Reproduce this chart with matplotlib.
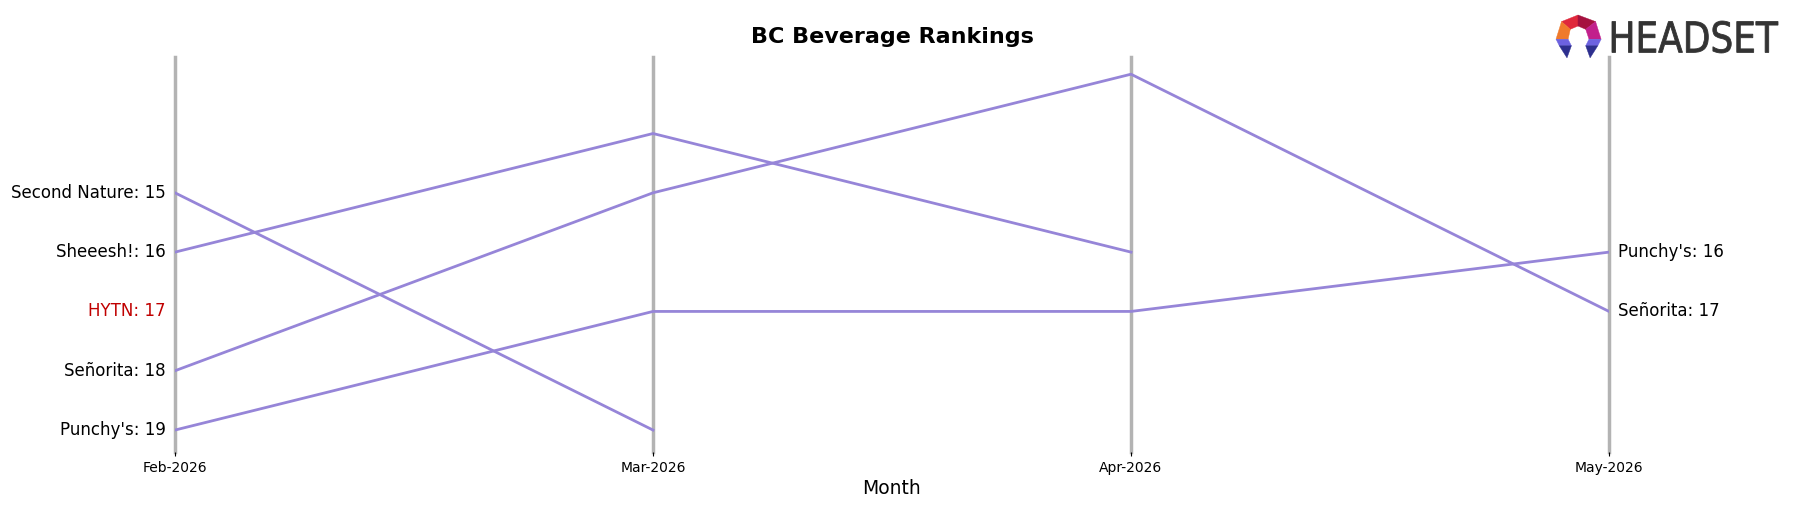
import matplotlib
matplotlib.use("Agg")
import matplotlib.pyplot as plt
from matplotlib.patches import Polygon, PathPatch
from matplotlib.textpath import TextPath
from matplotlib.font_manager import FontProperties
from matplotlib.transforms import Affine2D, offset_copy

# ---- data ----
months = ["Feb-2026", "Mar-2026", "Apr-2026", "May-2026"]
brands = ["Second Nature", "Sheeesh!", "HYTN", "Señorita", "Punchy's"]
second_nature = [15, 19, None, None]
sheeesh = [16, 14, 16, None]
hytn = [17, None, None, None]
senorita = [18, 15, 13, 17]
punchys = [19, 17, 17, 16]
series = [second_nature, sheeesh, hytn, senorita, punchys]
highlight = "HYTN"

title = "BC Beverage Rankings"
xlabel = "Month"

line_color = "#9685d8"
vline_color = "#b3b3b3"
hl_color = "#c00000"

W, H = 1793, 507
fig = plt.figure(figsize=(W / 100, H / 100), dpi=100)
ax = fig.add_axes([175 / W, 1 - 452 / H, (1609 - 175) / W, (452 - 57) / H])

x = list(range(len(months)))
for xi in x:
    ax.axvline(xi, color=vline_color, lw=2.5, zorder=1, clip_on=False)

for name, vals in zip(brands, series):
    xs = [xi for xi, v in zip(x, vals) if v is not None]
    ys = [v for v in vals if v is not None]
    if len(xs) > 1:
        ax.plot(xs, ys, color=line_color, lw=2, zorder=2)

left_tr = offset_copy(ax.transData, fig=fig, x=-9, y=0, units="dots")
right_tr = offset_copy(ax.transData, fig=fig, x=9, y=0, units="dots")
for name, vals in zip(brands, series):
    col = hl_color if name == highlight else "black"
    if vals[0] is not None:
        ax.text(x[0], vals[0], f"{name}: {vals[0]}", transform=left_tr,
                ha="right", va="center", fontsize=12, color=col)
    if vals[-1] is not None:
        ax.text(x[-1], vals[-1], f"{name}: {vals[-1]}", transform=right_tr,
                ha="left", va="center", fontsize=12, color=col)

ax.set_xlim(x[0], x[-1])
ax.set_ylim(19.37, 12.71)
ax.set_xticks(x)
ax.set_xticklabels(months, fontsize=10)
ax.set_yticks([])
ax.tick_params(axis="x", length=3, width=0.8)
for s in ax.spines.values():
    s.set_visible(False)
ax.set_xlabel(xlabel, fontsize=13.5, labelpad=3)

fig.text(892 / W, 1 - 37 / H, title, ha="center", va="center",
         fontsize=16, fontweight="bold")

# ---- logo ----
lax = fig.add_axes([0, 0, 1, 1], zorder=5)
lax.set_xlim(0, W)
lax.set_ylim(H, 0)
lax.axis("off")
ox, oy, s = 1556, 15, 1.1
def P(pts):
    return [(ox + px * s, oy + py * s) for px, py in pts]
pieces = [
    ([(5, 6), (20, 0), (20, 10), (13, 13)], "#e0283c"),
    ([(20, 0), (36, 6), (27, 13), (20, 10)], "#a5113f"),
    ([(5, 6), (13, 13), (11, 22), (0, 22)], "#f07a2c"),
    ([(36, 6), (41, 22), (30, 22), (27, 13)], "#c2208c"),
    ([(0, 22), (11, 22), (14, 28), (3, 28)], "#6c62e0"),
    ([(3, 28), (14, 28), (10, 39)], "#2d2f8e"),
    ([(41, 22), (30, 22), (27, 28), (38, 28)], "#6c62e0"),
    ([(38, 28), (27, 28), (31, 39)], "#2d2f8e"),
]
for pts, c in pieces:
    lax.add_patch(Polygon(P(pts), closed=True, fc=c, ec=c, lw=0.3))

tp = TextPath((0, 0), "HEADSET", size=1, prop=FontProperties(family="DejaVu Sans"))
ext = tp.get_extents()
x0, y0, x1, y1 = 1612, 21, 1778, 53
sx = (x1 - x0) / ext.width
sy = (y1 - y0) / ext.height
tr = Affine2D().translate(-ext.x0, -ext.y0).scale(sx, -sy).translate(x0, y1)
lax.add_patch(PathPatch(tr.transform_path(tp), fc="#333333", ec="#333333", lw=0.6))

fig.savefig("out.png", dpi=100)
